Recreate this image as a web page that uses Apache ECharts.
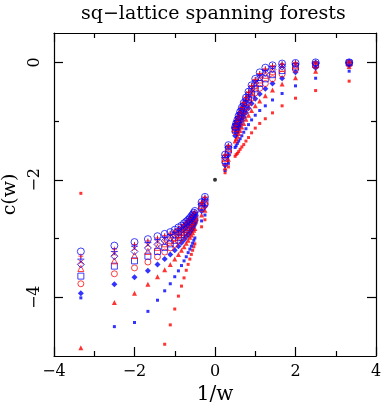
<!DOCTYPE html>
<html>
<head>
<meta charset="utf-8">
<script src="https://cdn.jsdelivr.net/npm/echarts@6/dist/echarts.min.js"></script>
<style>
html,body{margin:0;padding:0;background:#fff}
#chart{width:383px;height:409px}
</style>
</head>
<body>
<div id="chart"></div>
<script>
// 1/w positions of the columns
var xLeft = [-3.333, -2.5, -2.0, -1.667, -1.429, -1.25, -1.111, -1.0, -0.909, -0.833,
             -0.769, -0.714, -0.667, -0.625, -0.588, -0.556, -0.526, -0.5, -0.333, -0.25];
var xRight = [3.333, 2.5, 2.0, 1.667, 1.429, 1.25, 1.111, 1.0, 0.909, 0.833,
              0.769, 0.714, 0.667, 0.625, 0.588, 0.556, 0.526, 0.5, 0.333, 0.25];

// c(w), one list per strip width, left branch (w<0)
var left1  = [-2.23, null, null, null, null, -4.80, -4.47, -4.20, -3.98, -3.81, -3.67, -3.54, -3.44, -3.35, -3.27, -3.20, -3.14, -3.09, -2.80, -2.68];
var left2  = [-4.01, -4.50, -4.43, -4.24, -4.05, -3.89, -3.77, -3.65, -3.55, -3.46, -3.38, -3.31, -3.24, -3.18, -3.13, -3.08, -3.03, -2.99, -2.70, -2.60];
var left3  = [-4.86, -4.09, -3.93, -3.78, -3.65, -3.53, -3.44, -3.35, -3.27, -3.20, -3.14, -3.08, -3.03, -2.98, -2.94, -2.90, -2.86, -2.83, -2.60, -2.52];
var left4  = [-3.93, -3.78, -3.66, -3.55, -3.44, -3.35, -3.27, -3.20, -3.13, -3.07, -3.02, -2.97, -2.93, -2.89, -2.85, -2.81, -2.78, -2.75, -2.53, -2.46];
var left5  = [-3.77, -3.60, -3.50, -3.40, -3.31, -3.23, -3.16, -3.10, -3.04, -2.99, -2.94, -2.90, -2.86, -2.82, -2.79, -2.75, -2.72, -2.70, -2.49, -2.42];
var left6  = [-3.64, -3.47, -3.38, -3.30, -3.22, -3.15, -3.09, -3.03, -2.98, -2.93, -2.89, -2.85, -2.81, -2.77, -2.74, -2.71, -2.68, -2.65, -2.46, -2.39];
var left7  = [-3.51, -3.38, -3.29, -3.22, -3.15, -3.09, -3.03, -2.98, -2.93, -2.89, -2.85, -2.81, -2.77, -2.74, -2.71, -2.67, -2.65, -2.62, -2.44, -2.36];
var left8  = [-3.44, -3.30, -3.22, -3.16, -3.10, -3.04, -2.99, -2.94, -2.90, -2.86, -2.82, -2.78, -2.74, -2.71, -2.68, -2.65, -2.62, -2.60, -2.42, -2.34];
var left9  = [-3.40, -3.26, -3.17, -3.11, -3.06, -3.01, -2.96, -2.91, -2.87, -2.83, -2.79, -2.76, -2.72, -2.69, -2.66, -2.63, -2.60, -2.58, -2.41, -2.32];
var left10 = [-3.35, -3.22, -3.13, -3.07, -3.02, -2.98, -2.93, -2.89, -2.85, -2.81, -2.77, -2.74, -2.70, -2.67, -2.64, -2.61, -2.59, -2.56, -2.40, -2.31];
var left11 = [-3.30, -3.18, -3.10, -3.04, -2.99, -2.95, -2.91, -2.87, -2.83, -2.79, -2.76, -2.72, -2.69, -2.66, -2.63, -2.60, -2.57, -2.55, -2.39, -2.30];
var left12 = [-3.22, -3.12, -3.06, -3.01, -2.96, -2.92, -2.89, -2.85, -2.81, -2.78, -2.74, -2.71, -2.68, -2.65, -2.62, -2.59, -2.56, -2.53, -2.38, -2.29];

// right branch (w>0)
var right1  = [-0.32, -0.48, -0.61, -0.74, -0.86, -0.96, -1.04, -1.12, -1.20, -1.28, -1.34, -1.40, -1.44, -1.48, -1.52, -1.55, -1.57, -1.60, -1.78, -1.88];
var right2  = [-0.15, -0.27, -0.40, -0.53, -0.64, -0.74, -0.82, -0.90, -0.98, -1.06, -1.13, -1.19, -1.25, -1.30, -1.34, -1.38, -1.42, -1.45, -1.72, -1.84];
var right3  = [-0.07, -0.15, -0.26, -0.37, -0.47, -0.57, -0.66, -0.74, -0.82, -0.90, -0.97, -1.04, -1.10, -1.16, -1.21, -1.26, -1.30, -1.34, -1.65, -1.80];
var right4  = [-0.04, -0.09, -0.17, -0.27, -0.36, -0.45, -0.54, -0.62, -0.70, -0.78, -0.86, -0.93, -0.99, -1.05, -1.10, -1.15, -1.20, -1.25, -1.58, -1.75];
var right5  = [-0.02, -0.06, -0.12, -0.20, -0.28, -0.36, -0.44, -0.52, -0.61, -0.69, -0.77, -0.84, -0.91, -0.97, -1.03, -1.08, -1.13, -1.18, -1.53, -1.71];
var right6  = [-0.01, -0.04, -0.08, -0.14, -0.21, -0.28, -0.36, -0.45, -0.54, -0.63, -0.71, -0.79, -0.86, -0.92, -0.98, -1.04, -1.09, -1.15, -1.49, -1.67];
var right7  = [-0.01, -0.03, -0.06, -0.10, -0.16, -0.22, -0.30, -0.39, -0.49, -0.58, -0.67, -0.75, -0.82, -0.89, -0.95, -1.01, -1.07, -1.13, -1.47, -1.64];
var right8  = [-0.01, -0.02, -0.04, -0.07, -0.12, -0.18, -0.26, -0.35, -0.45, -0.55, -0.64, -0.72, -0.80, -0.87, -0.94, -1.00, -1.06, -1.12, -1.45, -1.62];
var right9  = [0.00, -0.02, -0.03, -0.05, -0.09, -0.15, -0.23, -0.33, -0.43, -0.53, -0.62, -0.71, -0.79, -0.86, -0.93, -0.99, -1.05, -1.11, -1.44, -1.60];
var right10 = [0.00, -0.01, -0.02, -0.04, -0.07, -0.13, -0.21, -0.31, -0.41, -0.52, -0.61, -0.70, -0.78, -0.85, -0.92, -0.99, -1.05, -1.11, -1.43, -1.59];
var right11 = [0.00, -0.01, -0.01, -0.03, -0.06, -0.11, -0.19, -0.29, -0.40, -0.51, -0.60, -0.69, -0.77, -0.85, -0.92, -0.98, -1.04, -1.10, -1.42, -1.58];
var right12 = [0.00, 0.00, -0.01, -0.02, -0.05, -0.09, -0.17, -0.28, -0.39, -0.50, -0.60, -0.69, -0.77, -0.84, -0.91, -0.98, -1.04, -1.10, -1.41, -1.57];

// w = infinity point
var centerPoint = [0, -2.0];

var leftAll = [left1, left2, left3, left4, left5, left6, left7, left8, left9, left10, left11, left12];
var rightAll = [right1, right2, right3, right4, right5, right6, right7, right8, right9, right10, right11, right12];

var RED = '#ff0000', BLUE = '#0000ff';
var CROSS = 'path://M0,0L10,10M10,0L0,10';
var PLUS = 'path://M5,0L5,10M0,5L10,5';

// marker for each width
var markers = [
    {symbol: 'rect', size: 3, color: RED, open: false},
    {symbol: 'rect', size: 3, color: BLUE, open: false},
    {symbol: 'triangle', size: 5, color: RED, open: false},
    {symbol: 'diamond', size: 6, color: BLUE, open: false},
    {symbol: 'circle', size: 6, color: RED, open: true},
    {symbol: 'rect', size: 6, color: BLUE, open: true},
    {symbol: 'triangle', size: 6, color: RED, open: true},
    {symbol: 'diamond', size: 7, color: BLUE, open: true},
    {symbol: CROSS, size: 5, color: RED, open: true},
    {symbol: PLUS, size: 7, color: BLUE, open: true},
    {symbol: PLUS, size: 5, color: RED, open: true},
    {symbol: 'circle', size: 7, color: BLUE, open: true}
];

var series = [];
for (var k = 0; k < markers.length; k++) {
    var m = markers[k];
    var data = [];
    xLeft.forEach(function (x, i) {
        if (leftAll[k][i] != null) data.push([x, leftAll[k][i]]);
    });
    xRight.forEach(function (x, i) {
        if (rightAll[k][i] != null) data.push([x, rightAll[k][i]]);
    });
    series.push({
        type: 'scatter',
        data: data,
        symbol: m.symbol,
        symbolSize: m.size,
        silent: true,
        itemStyle: m.open ? {color: 'rgba(0,0,0,0)', borderColor: m.color, borderWidth: 1, opacity: 0.75}
                          : {color: m.color}
    });
}
series.push({
    type: 'scatter',
    data: [centerPoint],
    symbol: 'circle',
    symbolSize: 4,
    itemStyle: {color: '#000'}
});

var FONT = 'DejaVu Serif';
var tickStyle = {color: '#000', width: 1.2};
var axisLine = {show: true, onZero: false, lineStyle: {color: '#000', width: 1.2}};
var noLine = {show: false, onZero: false};

function minusFmt(v) { return v < 0 ? '\u2212' + (-v) : '' + v; }

var option = {
    animation: false,
    backgroundColor: '#fff',
    title: {
        text: 'sq\u2212lattice spanning forests',
        left: 76,
        top: 0,
        textStyle: {fontFamily: FONT, fontSize: 19, fontWeight: 'normal', color: '#000'}
    },
    grid: {left: 54, right: 7, top: 33, bottom: 53, outerBoundsMode: 'none', containLabel: false},
    xAxis: [{
        type: 'value', min: -4, max: 4, interval: 2, position: 'bottom',
        axisLine: axisLine,
        axisTick: {inside: true, length: 9, lineStyle: tickStyle},
        minorTick: {show: true, splitNumber: 2, length: 5, lineStyle: tickStyle},
        splitLine: {show: false},
        axisLabel: {fontFamily: FONT, fontSize: 16, color: '#000', margin: 8, formatter: minusFmt},
        name: '1/w', nameLocation: 'middle', nameGap: 28,
        nameTextStyle: {fontFamily: FONT, fontSize: 20, color: '#000'}
    }, {
        type: 'value', min: -4, max: 4, interval: 2, position: 'top',
        axisLine: axisLine,
        axisTick: {inside: true, length: 9, lineStyle: tickStyle},
        minorTick: {show: true, splitNumber: 2, length: 5, lineStyle: tickStyle},
        splitLine: {show: false},
        axisLabel: {show: false}
    }],
    yAxis: [{
        type: 'value', min: -5, max: 0.5, position: 'left',
        axisLine: axisLine,
        axisTick: {inside: true, length: 9, customValues: [-4, -2, 0], lineStyle: tickStyle},
        splitLine: {show: false},
        axisLabel: {
            fontFamily: FONT, fontSize: 16, color: '#000', rotate: 90, margin: 11,
            customValues: [-4, -2, 0], formatter: minusFmt
        },
        name: 'c(w)', nameLocation: 'middle', nameGap: 32, nameRotate: 90,
        nameTextStyle: {fontFamily: FONT, fontSize: 19, color: '#000'}
    }, {
        type: 'value', min: -5, max: 0.5, position: 'left',
        axisLine: noLine,
        axisTick: {inside: true, length: 5, customValues: [-3, -1], lineStyle: tickStyle},
        splitLine: {show: false},
        axisLabel: {show: false}
    }, {
        type: 'value', min: -5, max: 0.5, position: 'right',
        axisLine: axisLine,
        axisTick: {inside: true, length: 9, customValues: [-4, -2, 0], lineStyle: tickStyle},
        splitLine: {show: false},
        axisLabel: {show: false}
    }, {
        type: 'value', min: -5, max: 0.5, position: 'right',
        axisLine: noLine,
        axisTick: {inside: true, length: 5, customValues: [-3, -1], lineStyle: tickStyle},
        splitLine: {show: false},
        axisLabel: {show: false}
    }],
    series: series
};

var chart = echarts.init(document.getElementById('chart'));
chart.setOption(option);
</script>
</body>
</html>
